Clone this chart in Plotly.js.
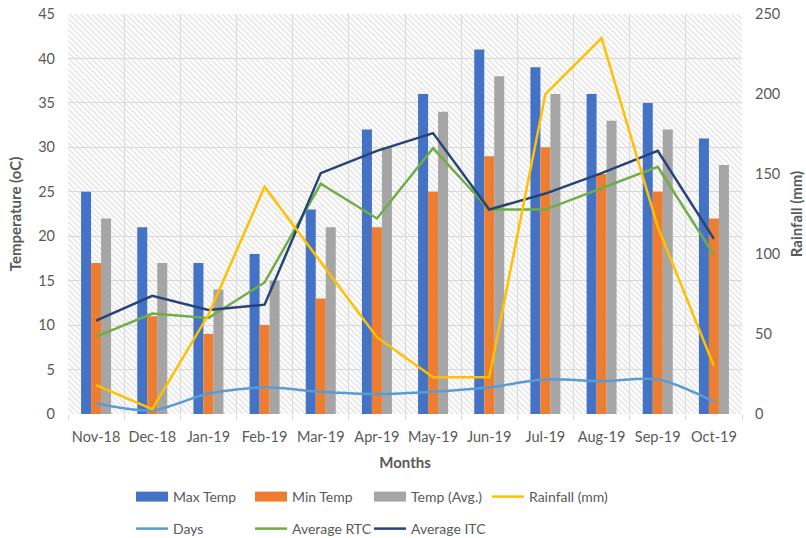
<!DOCTYPE html>
<html>
<head>
<meta charset="utf-8">
<script src="https://cdn.plot.ly/plotly-3.0.1.min.js"></script>
<style>
html,body{margin:0;padding:0;background:#fff;}
#chart{width:806px;height:538px;}
</style>
</head>
<body>
<div id="chart"></div>
<script>
const months = ['Nov-18','Dec-18','Jan-19','Feb-19','Mar-19','Apr-19','May-19','Jun-19','Jul-19','Aug-19','Sep-19','Oct-19'];
const maxTemp = [25,21,17,18,23,32,36,41,39,36,35,31];
const minTemp = [17,11,9,10,13,21,25,29,30,27,25,22];
const avgTemp = [22,17,14,15,21,30,34,38,36,33,32,28];
const rainfall = [18,3,62,142,95,48,23,23,200,235,117,30];
const days = [1.2,0.4,2.3,3.0,2.5,2.25,2.5,3.0,3.9,3.7,3.9,1.4];
const avgRTC = [8.7,11.3,10.8,14.8,25.9,22.0,29.9,23.0,23.0,25.4,27.8,17.9];
const avgITC = [10.5,13.3,11.7,12.3,27.1,29.6,31.6,23.0,24.8,27.1,29.6,19.7];
const tempTicks = [0,5,10,15,20,25,30,35,40,45];
const rainTicks = [0,50,100,150,200,250];

const FONT = 'Lato, "Open Sans", sans-serif';
const GRAY = '#595959';
const C = {max:'#4472C4', min:'#ED7D31', avg:'#A5A5A5', rain:'#FFC000', days:'#5B9BD5', rtc:'#70AD47', itc:'#264478'};

const hatch = "<svg xmlns='http://www.w3.org/2000/svg' width='674' height='400'>" +
  "<defs><pattern id='p' width='4' height='4' patternUnits='userSpaceOnUse' patternTransform='rotate(-45)'>" +
  "<rect width='4' height='4' fill='#ffffff'/>" +
  "<line x1='1' y1='0' x2='1' y2='4' stroke='#dcdcdc' stroke-width='1.2'/></pattern></defs>" +
  "<rect width='674' height='400' fill='url(#p)'/></svg>";
const hatchURI = 'data:image/svg+xml;charset=utf-8,' + encodeURIComponent(hatch);

// legend-only swatches for the bar series (wide rectangles like the original)
function swatch(name, color) {
  return {type:'scatter', mode:'lines', name:name, x:[null], y:[null],
    line:{color:color, width:10}, legend:'legend', hoverinfo:'skip'};
}

const traces = [
  {type:'bar', name:'Max Temp', x:months, y:maxTemp, marker:{color:C.max}, showlegend:false},
  {type:'bar', name:'Min Temp', x:months, y:minTemp, marker:{color:C.min}, showlegend:false},
  {type:'bar', name:'Temp (Avg.)', x:months, y:avgTemp, marker:{color:C.avg}, showlegend:false},
  swatch('Max Temp', C.max),
  swatch('Min Temp', C.min),
  swatch('Temp (Avg.)', C.avg),
  {type:'scatter', mode:'lines', name:'Rainfall (mm)', x:months, y:rainfall, yaxis:'y2',
    line:{color:C.rain, width:2.5}, legend:'legend3'},
  {type:'scatter', mode:'lines', name:'Days', x:months, y:days,
    line:{color:C.days, width:2.5, shape:'spline', smoothing:0.8}, legend:'legend2'},
  {type:'scatter', mode:'lines', name:'Average RTC', x:months, y:avgRTC,
    line:{color:C.rtc, width:2.5}, legend:'legend2'},
  {type:'scatter', mode:'lines', name:'Average ITC', x:months, y:avgITC,
    line:{color:C.itc, width:2.5}, legend:'legend2'}
];

const legendCommon = {
  orientation:'h', xanchor:'left', yanchor:'top', xref:'container', yref:'container',
  font:{family:FONT, size:14, color:GRAY},
  entrywidth:72, entrywidthmode:'pixels', itemwidth:32,
  bgcolor:'rgba(0,0,0,0)', borderwidth:0, tracegroupgap:0
};

const layout = {
  width:806, height:538,
  margin:{l:68, r:64, t:14, b:124, pad:0},
  paper_bgcolor:'#ffffff', plot_bgcolor:'rgba(0,0,0,0)',
  font:{family:FONT, size:14, color:GRAY},
  barmode:'group', bargap:0.466, bargroupgap:0,
  showlegend:true,
  legend:Object.assign({x:131/806, y:1-481/538}, legendCommon),
  legend3:Object.assign({}, legendCommon, {x:487/806, y:1-481/538, entrywidth:0}),
  legend2:Object.assign({x:131/806, y:1-513/538}, legendCommon),
  xaxis:{
    type:'category', tickson:'boundaries', showgrid:true, gridcolor:'#d9d9d9', gridwidth:1,
    ticks:'outside', ticklen:5, tickcolor:'#d9d9d9', showline:false, zeroline:false,
    tickangle:0, ticklabelstandoff:12, tickfont:{family:FONT, size:14.5, color:GRAY}, automargin:false,
    title:{text:'Months', font:{family:FONT, size:15, color:GRAY, weight:'bold'}, standoff:13}
  },
  yaxis:{
    range:[0,45], tickvals:tempTicks, showgrid:true, gridcolor:'#d9d9d9', gridwidth:1,
    zeroline:false, showline:false, ticks:'', ticklabelstandoff:12,
    tickfont:{family:FONT, size:14.5, color:GRAY}, automargin:false,
    title:{text:'Temperature (oC)', font:{family:FONT, size:15, color:GRAY, weight:'bold'}, standoff:12}
  },
  yaxis2:{
    range:[0,250], tickvals:rainTicks, overlaying:'y', side:'right', showgrid:false,
    zeroline:false, showline:false, ticks:'', ticklabelstandoff:12,
    tickfont:{family:FONT, size:14.5, color:GRAY}, automargin:false,
    title:{text:'Rainfall (mm)', font:{family:FONT, size:15, color:GRAY, weight:'bold'}, standoff:12}
  },
  images:[{source:hatchURI, xref:'paper', yref:'paper', x:0, y:1, sizex:1, sizey:1,
    xanchor:'left', yanchor:'top', sizing:'stretch', layer:'below'}]
};

Plotly.newPlot('chart', traces, layout, {displayModeBar:false, staticPlot:true});
</script>
</body>
</html>
